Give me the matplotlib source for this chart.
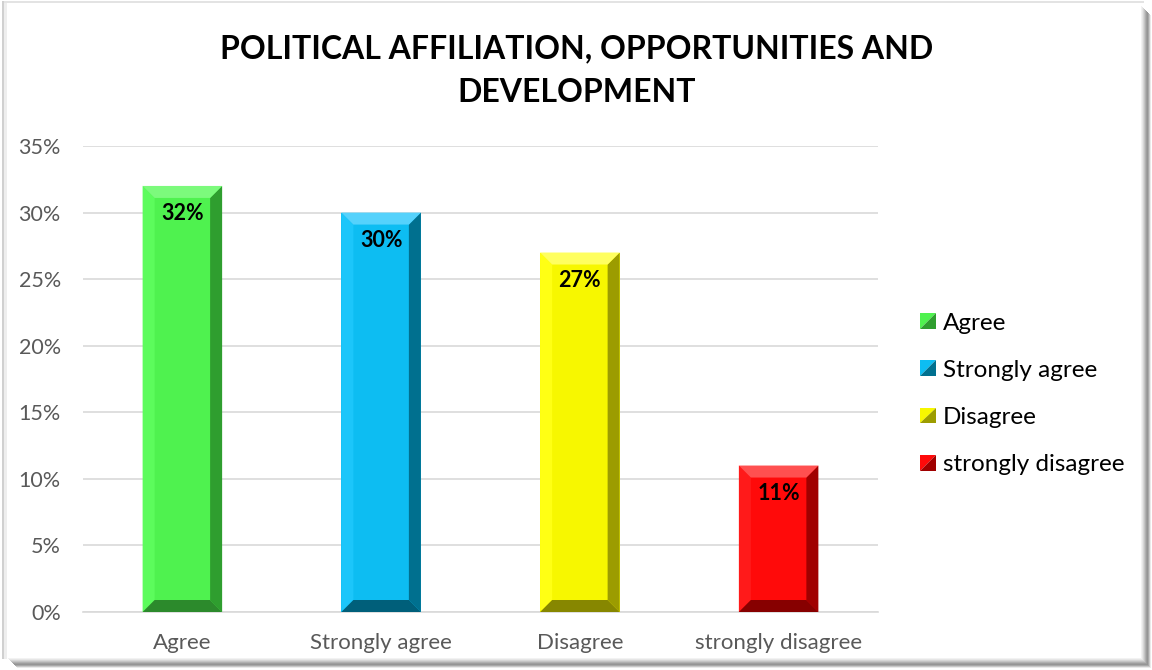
import matplotlib
matplotlib.use("Agg")
import matplotlib.pyplot as plt
from matplotlib.patches import Polygon, Rectangle
from matplotlib.legend_handler import HandlerBase
from matplotlib.lines import Line2D

# ---- data ----
categories = ["Agree", "Strongly agree", "Disagree", "strongly disagree"]
values = [0.32, 0.30, 0.27, 0.11]
value_labels = ["32%", "30%", "27%", "11%"]
yticks = [0.0, 0.05, 0.10, 0.15, 0.20, 0.25, 0.30, 0.35]
ytick_labels = ["0%", "5%", "10%", "15%", "20%", "25%", "30%", "35%"]
title = "POLITICAL AFFILIATION, OPPORTUNITIES AND\nDEVELOPMENT"

# face, top bevel, left bevel, right bevel, bottom bevel
palette = [
    ("#4FF24F", "#7CFA7C", "#5CFC5C", "#2F9E2F", "#2C8A2C"),
    ("#0DBDF2", "#55D2FC", "#1CC6FA", "#00708F", "#005F7A"),
    ("#F7F700", "#FFFF60", "#FFFF14", "#9C9C00", "#878700"),
    ("#FF0A0A", "#FF5050", "#FF1A1A", "#A00000", "#870000"),
]

W, H, DPI = 1152, 670, 100
plt.rcParams["font.family"] = ["Lato", "DejaVu Sans"]

fig = plt.figure(figsize=(W / DPI, H / DPI), dpi=DPI)
fig.patch.set_facecolor("white")

ax_l, ax_r, ax_t, ax_b = 83, 878, 146, 612
ax = fig.add_axes([ax_l / W, (H - ax_b) / H, (ax_r - ax_l) / W, (ax_b - ax_t) / H])

n = len(categories)
ax.set_xlim(-0.5, n - 0.5)
ax.set_ylim(0, 0.35)

bar_w = 0.40
bars = ax.bar(range(n), values, width=bar_w, color=[p[0] for p in palette],
              edgecolor="none", zorder=3)

# bevel size in pixels, converted to data units
bev_px = 12
px_per_x = (ax_r - ax_l) / n
px_per_y = (ax_b - ax_t) / 0.35
dx = bev_px / px_per_x
dy = bev_px / px_per_y

for rect, cols in zip(bars, palette):
    x0 = rect.get_x()
    x1 = x0 + rect.get_width()
    y1 = rect.get_height()
    face, top, left, right, bottom = cols
    polys = [
        ([(x0, 0), (x0, y1), (x0 + dx, y1 - dy), (x0 + dx, dy)], left),
        ([(x1, 0), (x1, y1), (x1 - dx, y1 - dy), (x1 - dx, dy)], right),
        ([(x0, y1), (x1, y1), (x1 - dx, y1 - dy), (x0 + dx, y1 - dy)], top),
        ([(x0, 0), (x1, 0), (x1 - dx, dy), (x0 + dx, dy)], bottom),
    ]
    for pts, c in polys:
        ax.add_patch(Polygon(pts, closed=True, facecolor=c, edgecolor="none", zorder=4))

# value labels inside top of bars
for rect, lab in zip(bars, value_labels):
    cx = rect.get_x() + rect.get_width() / 2
    ax.annotate(lab, xy=(cx, rect.get_height()), xytext=(0, -28),
                textcoords="offset pixels",
                ha="center", va="center", fontsize=15.5, fontweight="bold",
                color="black", zorder=6)

# axes styling
ax.set_yticks(yticks)
ax.set_yticklabels(ytick_labels)
ax.set_xticks(range(n))
ax.set_xticklabels(categories)
ax.tick_params(axis="both", length=0, labelsize=16, labelcolor="#595959")
ax.tick_params(axis="y", pad=16, labelsize=15.5)
ax.tick_params(axis="x", pad=15)
ax.grid(axis="y", color="#D9D9D9", linewidth=1.2, zorder=0)
ax.set_axisbelow(True)
for s in ["top", "right", "left"]:
    ax.spines[s].set_visible(False)
ax.spines["bottom"].set_color("#D9D9D9")
ax.spines["bottom"].set_linewidth(1.2)
ax.spines["bottom"].set_zorder(2)


# legend squares with a diagonal bevel look
class BevelHandler(HandlerBase):
    def __init__(self, light, dark):
        super().__init__()
        self.light = light
        self.dark = dark

    def create_artists(self, legend, orig_handle, xdescent, ydescent, width,
                       height, fontsize, trans):
        s = min(width, height)
        x0 = -xdescent + width - s
        y0 = -ydescent + (height - s) / 2
        p1 = Polygon([(x0, y0), (x0, y0 + s), (x0 + s, y0 + s)], closed=True,
                     facecolor=self.light, edgecolor="none", transform=trans)
        p2 = Polygon([(x0, y0), (x0 + s, y0), (x0 + s, y0 + s)], closed=True,
                     facecolor=self.dark, edgecolor="none", transform=trans)
        return [p1, p2]


handles = [Line2D([], []) for _ in categories]
handler_map = {h: BevelHandler(p[0], p[3]) for h, p in zip(handles, palette)}
leg = fig.legend(handles, categories, handler_map=handler_map,
                 loc="center left", bbox_to_anchor=(920 / W, (H - 394) / H),
                 frameon=False, fontsize=17.5, handlelength=0.65, handleheight=0.65,
                 handletextpad=0.3, labelspacing=1.08, borderpad=0,
                 borderaxespad=0)

fig.text(577 / W, (H - 71) / H, title, ha="center", va="center",
         fontsize=23, fontweight="bold", color="black", linespacing=1.62)

# frame with soft shadow on the right and bottom
ft = fig.transFigure
def px_rect(x, y, w, h, color, z=10):
    fig.patches.append(Rectangle((x / W, 1 - (y + h) / H), w / W, h / H,
                                 facecolor=color, edgecolor="none",
                                 transform=ft, zorder=z))

# left/top light edge
px_rect(2, 1, 1142, 2, "#E3E3E3")
px_rect(2, 1, 2, 658, "#D0D0D0")
px_rect(4, 3, 3, 656, "#EEEEEE")
# right/bottom shadow gradient
shades = ["#F2F2F2", "#E6E6E6", "#D6D6D6", "#C4C4C4", "#B0B0B0", "#9E9E9E",
          "#959595", "#A8A8A8", "#C8C8C8", "#EAEAEA"]
for i, c in enumerate(shades):
    px_rect(1141 + i, 6 + i, 1, 652, c)
    px_rect(8 + i, 658 + i, 1134, 1, c)

fig.savefig("out.png", dpi=DPI, facecolor="white")
